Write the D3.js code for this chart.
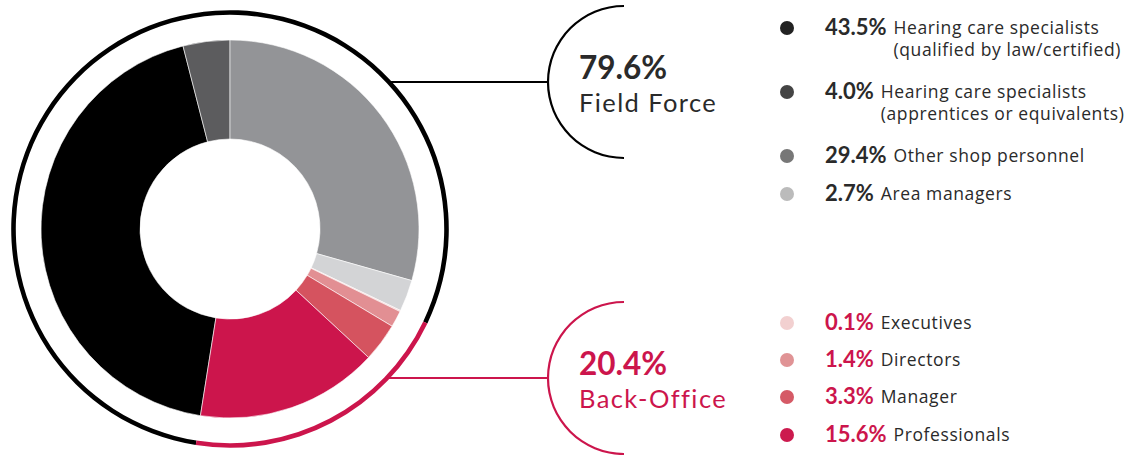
<!DOCTYPE html>
<html><head><meta charset="utf-8">
<script src="https://cdn.jsdelivr.net/npm/d3@7"></script>
<style>
html,body{margin:0;padding:0;background:#fff;}
svg{display:block;font-family:Lato,"Open Sans",sans-serif;}
</style></head>
<body>
<svg id="chart" width="1133" height="455"></svg>
<script>
// ---- data ----
const categories = [
  ["Hearing care specialists", "(qualified by law/certified)"],
  ["Hearing care specialists", "(apprentices or equivalents)"],
  ["Other shop personnel"],
  ["Area managers"],
  ["Executives"],
  ["Directors"],
  ["Manager"],
  ["Professionals"]
];
const values = [43.5, 4.0, 29.4, 2.7, 0.1, 1.4, 3.3, 15.6];
const groupOf = [0, 0, 0, 0, 1, 1, 1, 1];
const groupNames = ["Field Force", "Back-Office"];
const groupValues = [79.6, 20.4];

// ---- styles ----
const sliceColors = ["#000000", "#5c5c5e", "#939497", "#d3d4d6", "#f2d0d0", "#e28f93", "#d5535f", "#cc154c"];
const dotColors = ["#222222", "#444444", "#777777", "#bbbbbb", "#f2d0d0", "#e09395", "#d55a66", "#cc1a4e"];
const groupColors = ["#000000", "#cc154c"];
const groupTextColors = ["#2a2a2a", "#cc154c"];
const textDark = "#2a2a2a";
const labelFont = "'Open Sans', 'Noto Sans', sans-serif";

const svg = d3.select("#chart");
const cx = 230, cy = 229;
const rOuter = 189, rInner = 90, ringR = 216.5;

const offset = -(values[0] + values[1]) / d3.sum(values) * 2 * Math.PI;
const pie = d3.pie().sort(null).value(d => d).startAngle(offset).endAngle(offset + 2 * Math.PI);
const arc = d3.arc().innerRadius(rInner).outerRadius(rOuter);

const g = svg.append("g").attr("transform", `translate(${cx},${cy})`);
g.selectAll("path.slice").data(pie(values)).join("path")
  .attr("class", "slice")
  .attr("d", arc)
  .attr("fill", (d, i) => sliceColors[i])
  .attr("stroke", "#fff").attr("stroke-width", 0.6);

// outer group ring
const ringArc = d3.arc().innerRadius(ringR - 2.3).outerRadius(ringR + 2.3);
g.selectAll("path.ring").data(pie(groupValues)).join("path")
  .attr("class", "ring")
  .attr("d", ringArc)
  .attr("fill", (d, i) => groupColors[i]);

// brackets + connectors
const bx = 624, bR = 76;
const bracketY = [82, 378];
const bracketArc = d3.arc().innerRadius(bR - 1.1).outerRadius(bR + 1.1)
  .startAngle(Math.PI).endAngle(2 * Math.PI);
bracketY.forEach((by, i) => {
  svg.append("path").attr("d", bracketArc)
    .attr("transform", `translate(${bx},${by})`)
    .attr("fill", groupColors[i]);
  const x0 = cx + Math.sqrt(ringR * ringR - (by - cy) * (by - cy));
  svg.append("line").attr("x1", x0).attr("x2", bx - bR)
    .attr("y1", by).attr("y2", by)
    .attr("stroke", groupColors[i]).attr("stroke-width", 2);
  svg.append("text").attr("x", 579).attr("y", by - 3)
    .attr("font-size", 31.5).attr("font-weight", 700)
    .attr("fill", groupTextColors[i])
    .text(d3.format(".1f")(groupValues[i]) + "%");
  svg.append("text").attr("x", 579).attr("y", by + 30)
    .attr("font-size", 25.5).attr("letter-spacing", 1.4)
    .attr("fill", groupTextColors[i])
    .text(groupNames[i]);
});

// legend
const legendY = [28, 92, 156, 194, 323, 360, 397, 435];
const pctFmt = d3.format(".1f");
values.forEach((v, i) => {
  const y = legendY[i];
  svg.append("circle").attr("cx", 787).attr("cy", y).attr("r", 7)
    .attr("fill", dotColors[i]);
  const pct = svg.append("text").attr("x", 825).attr("y", y + 7)
    .attr("font-size", 22).attr("font-weight", 700)
    .attr("fill", groupOf[i] === 1 ? groupTextColors[1] : textDark)
    .text(pctFmt(v) + "%");
  const w = pct.node().getComputedTextLength();
  const lx = 825 + w + 7;
  const t = svg.append("text").attr("y", y + 6)
    .attr("font-size", 17.5).attr("letter-spacing", 0.6)
    .attr("font-family", labelFont).attr("fill", textDark);
  categories[i].forEach((line, k) => {
    t.append("tspan").attr("x", lx).attr("dy", k === 0 ? 0 : 22).text(line);
  });
});
</script>
</body></html>
